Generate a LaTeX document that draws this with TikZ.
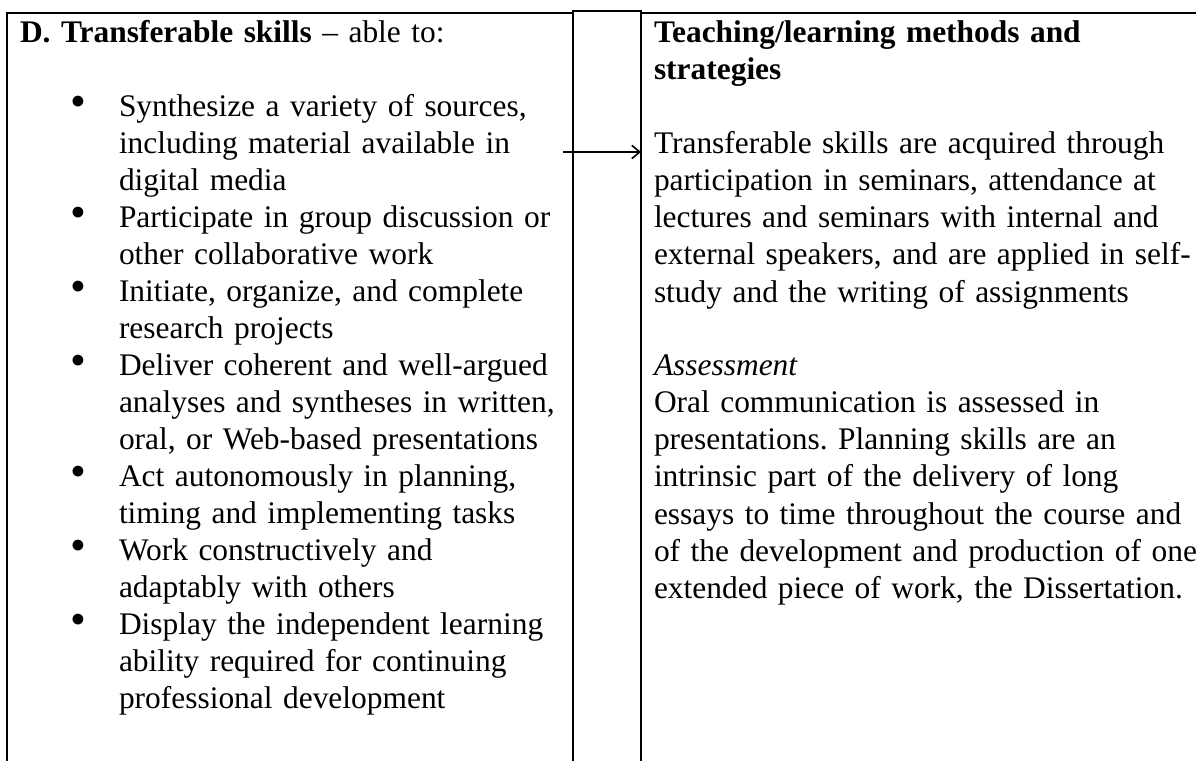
\documentclass[tikz,border=0pt]{standalone}
\usepackage{fontspec}
\setmainfont{Liberation Serif}[WordSpace=0.8]
\usetikzlibrary{arrows.meta,positioning}
\frenchspacing

\begin{document}
\begin{tikzpicture}[x=0.377pt,y=-0.377pt,>={Straight Barb[length=3pt,width=5pt]},line width=0.75pt]
				\tikzstyle{every node}=[inner sep=0pt,outer sep=0pt,anchor=base west,
				                        font=\fontsize{11.85}{13.95}\selectfont]
				\tikzstyle{cell}=[text width=190mm,align=left]
				\tikzstyle{dot}=[anchor=base west,font=\fontsize{17}{17}\selectfont]
				\useasboundingbox (0,0) rectangle (1196,761);

				% frame of the table row
				\coordinate (lb) at (7,761);
				\coordinate (lt) at (7,13);
				\coordinate (ma) at (573,13);
				\coordinate (mb) at (573,11);
				\coordinate (mc) at (641,11);
				\coordinate (md) at (641,13);
				\coordinate (rt) at (1196,13);
				\draw (lb) -- (lt) -- (ma) -- (mb) -- (mc) -- (md) -- (rt);
				\draw (mb) -- (573,761);
				\draw (mc) -- (641,761);

				% left cell
				\node[cell] (title) at (20,43) {\textbf{D. Transferable skills} – able to:};

				\node[dot]  (b1) at (70,117) {•};
				\node[cell] (i1) at (119,117) {Synthesize a variety of sources,\\including material available in\\digital media};
				\node[dot]  (b2) at (70,228) {•};
				\node[cell] (i2) at (119,228) {Participate in group discussion or\\other collaborative work};
				\node[dot]  (b3) at (70,302) {•};
				\node[cell] (i3) at (119,302) {Initiate, organize, and complete\\research projects};
				\node[dot]  (b4) at (70,376) {•};
				\node[cell] (i4) at (119,376) {Deliver coherent and well-argued\\analyses and syntheses in written,\\oral, or Web-based presentations};
				\node[dot]  (b5) at (70,487) {•};
				\node[cell] (i5) at (119,487) {Act autonomously in planning,\\timing and implementing tasks};
				\node[dot]  (b6) at (70,561) {•};
				\node[cell] (i6) at (119,561) {Work constructively and\\adaptably with others};
				\node[dot]  (b7) at (70,635) {•};
				\node[cell] (i7) at (119,635) {Display the independent learning\\ability required for continuing\\professional development};

				% right cell
				\node[cell] (head) at (654,43) {\textbf{Teaching/learning methods and}\\\textbf{strategies}};
				\node[cell] (methods) at (654,154) {Transferable skills are acquired through\\participation in seminars, attendance at\\lectures and seminars with internal and\\external speakers, and are applied in self-\\study and the writing of assignments};
				\node[cell] (assess) at (654,376) {\textit{Assessment}\\Oral communication is assessed in\\presentations. Planning skills are an\\intrinsic part of the delivery of long\\essays to time throughout the course and\\of the development and production of one\\extended piece of work, the Dissertation.};

				% link from the list to the methods
				\coordinate (from) at (563,152);
				\coordinate (to) at (641,152);
				\draw[->,line width=0.6pt] (from) -- (to);
\end{tikzpicture}
\end{document}
